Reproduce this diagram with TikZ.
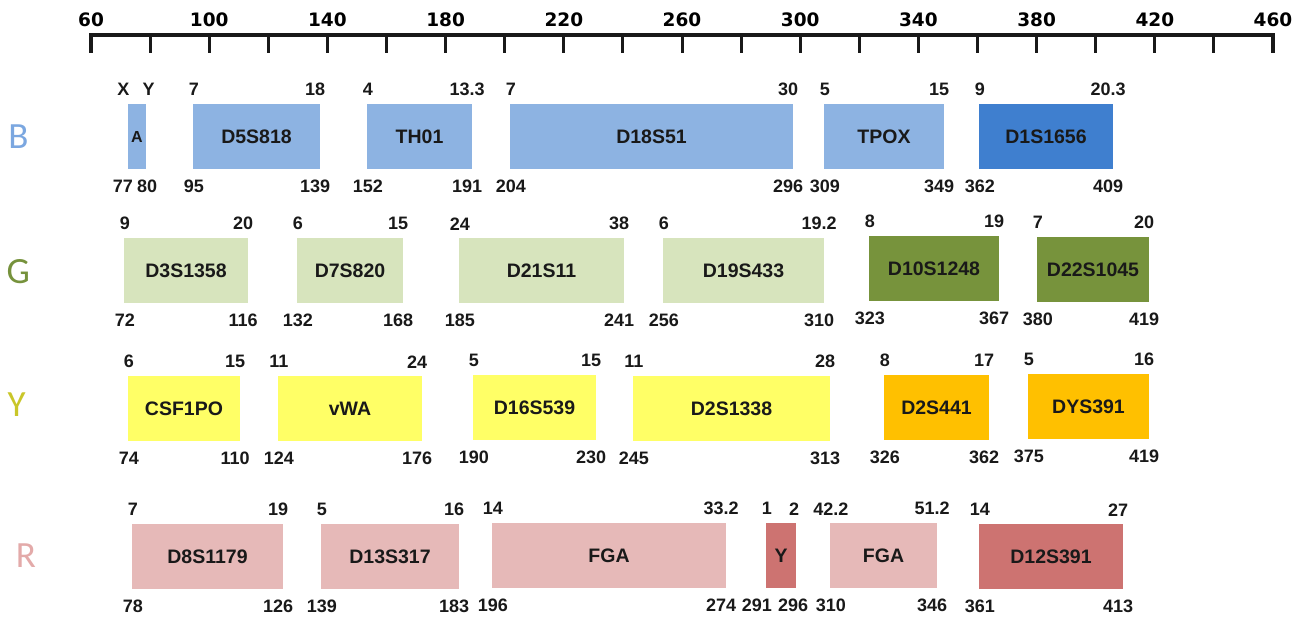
\documentclass[tikz,border=0pt]{standalone}
\usepackage{fontspec}
\setmainfont{Liberation Sans}
\newfontfamily\axfamily{DejaVu Sans}
\newfontfamily\rwfamily{Carlito}
\usetikzlibrary{calc}
\definecolor{Blight}{HTML}{8DB3E2}
\definecolor{Bdark}{HTML}{3F7FCF}
\definecolor{Glight}{HTML}{D7E4BD}
\definecolor{Gdark}{HTML}{77933C}
\definecolor{Ylight}{HTML}{FFFF66}
\definecolor{Ydark}{HTML}{FFC000}
\definecolor{Rlight}{HTML}{E6B9B8}
\definecolor{Rdark}{HTML}{CD7371}
\definecolor{Bletter}{HTML}{7BA7E0}
\definecolor{Gletter}{HTML}{76923C}
\definecolor{Yletter}{HTML}{C9C629}
\definecolor{Rletter}{HTML}{E3AAA9}
\newcommand\lcfont{\fontsize{19.5}{19.5}\selectfont\bfseries}
\newcommand\nmfont{\fontsize{18}{18}\selectfont\bfseries}
\newcommand\axfnt{\axfamily\fontsize{18.5}{18.5}\selectfont\bfseries}
\newcommand\rwfnt{\rwfamily\fontsize{37}{37}\selectfont}
\tikzset{
  locus/.style={rectangle, inner sep=0pt, minimum height=65pt, font=\lcfont, text=black!90},
  num/.style={inner sep=0pt, font=\nmfont, text=black!90},
  axlab/.style={inner sep=0pt, font=\axfnt, text=black},
  rowlab/.style={inner sep=0pt, font=\rwfnt},
  axline/.style={line width=3.5pt, line join=miter, draw=black!90},
  tickline/.style={line width=3pt, draw=black!90},
}
\newcommand\locus[6]{%
  \pgfmathsetmacro\lcx{(#2+#3)/2}%
  \pgfmathsetmacro\lcw{#3-#2}%
  \pgfmathsetmacro\lcy{#4+32.5}%
  \node[locus, fill=#5, minimum width=\lcw pt] (#1) at (\lcx,\lcy) {#6};}
\newcommand\lcends[5]{%
  \node[num] (#1tl) at ($(#1.north west)+(1,-14)$) {#2};
  \node[num] (#1tr) at ($(#1.north east)+(-5,-14)$) {#3};
  \node[num] (#1bl) at ($(#1.south west)+(1,17)$) {#4};
  \node[num] (#1br) at ($(#1.south east)+(-5,17)$) {#5};}
\begin{document}
\begin{tikzpicture}[x=1pt,y=-1pt]
\useasboundingbox (0,0) rectangle (1313,617);
% axis
\coordinate (axL) at (91,53);
\coordinate (axLt) at (91,35);
\coordinate (axRt) at (1273,35);
\coordinate (axR) at (1273,53);
\draw[axline] (axL) -- (axLt) -- (axRt) -- (axR);
\foreach \i in {1,...,19}{
  \coordinate (tk\i) at ({91+\i*59.1},35);
  \draw[tickline] (tk\i) -- ++(0,18);
}
\foreach \i/\v in {0/60,2/100,4/140,6/180,8/220,10/260,12/300,14/340,16/380,18/420,20/460}{
  \node[axlab] (ax\v) at ({91+\i*59.1},19.5) {\v};
}
% row letters
\node[rowlab, text=Bletter] (rowB) at (18.5,137) {B};
\node[rowlab, text=Gletter] (rowG) at (18.3,271.5) {G};
\node[rowlab, text=Yletter] (rowY) at (16.7,405) {Y};
\node[rowlab, text=Rletter] (rowR) at (26,556) {R};
% B row
\locus{bA}{128}{146}{104}{Blight}{\fontsize{16}{16}\selectfont A}
\node[num] (bAtl) at ($(bA.north west)+(-4.5,-14)$) {X};
\node[num] (bAtr) at ($(bA.north east)+(2.5,-14)$) {Y};
\node[num] (bAbl) at ($(bA.south west)+(-5,17)$) {77};
\node[num] (bAbr) at ($(bA.south east)+(1,17)$) {80};
\locus{b1}{193}{320}{104}{Blight}{D5S818}   \lcends{b1}{7}{18}{95}{139}
\locus{b2}{367}{472}{104}{Blight}{TH01}     \lcends{b2}{4}{13.3}{152}{191}
\locus{b3}{510}{793}{104}{Blight}{D18S51}   \lcends{b3}{7}{30}{204}{296}
\locus{b4}{824}{944}{104}{Blight}{TPOX}     \lcends{b4}{5}{15}{309}{349}
\locus{b5}{979}{1113}{104}{Bdark}{D1S1656}  \lcends{b5}{9}{20.3}{362}{409}
% G row
\locus{g1}{124}{248}{238}{Glight}{D3S1358}  \lcends{g1}{9}{20}{72}{116}
\locus{g2}{297}{403}{238}{Glight}{D7S820}   \lcends{g2}{6}{15}{132}{168}
\locus{g3}{459}{624}{238}{Glight}{D21S11}   \lcends{g3}{24}{38}{185}{241}
\locus{g4}{663}{824}{238}{Glight}{D19S433}  \lcends{g4}{6}{19.2}{256}{310}
\locus{g5}{869}{999}{236}{Gdark}{D10S1248}  \lcends{g5}{8}{19}{323}{367}
\locus{g6}{1037}{1149}{237}{Gdark}{D22S1045} \lcends{g6}{7}{20}{380}{419}
% Y row
\locus{y1}{128}{240}{376}{Ylight}{CSF1PO}   \lcends{y1}{6}{15}{74}{110}
\locus{y2}{278}{422}{376}{Ylight}{vWA}      \lcends{y2}{11}{24}{124}{176}
\locus{y3}{473}{596}{375}{Ylight}{D16S539}  \lcends{y3}{5}{15}{190}{230}
\locus{y4}{633}{830}{376}{Ylight}{D2S1338}  \lcends{y4}{11}{28}{245}{313}
\locus{y5}{884}{989}{375}{Ydark}{D2S441}    \lcends{y5}{8}{17}{326}{362}
\locus{y6}{1028}{1149}{374}{Ydark}{DYS391}  \lcends{y6}{5}{16}{375}{419}
% R row
\locus{r1}{132}{283}{524}{Rlight}{D8S1179}  \lcends{r1}{7}{19}{78}{126}
\locus{r2}{321}{459}{524}{Rlight}{D13S317}  \lcends{r2}{5}{16}{139}{183}
\locus{r3}{492}{726}{523}{Rlight}{FGA}      \lcends{r3}{14}{33.2}{196}{274}
\locus{r4}{766}{796}{523}{Rdark}{Y}
\node[num] (r4tl) at ($(r4.north west)+(1,-14)$) {1};
\node[num] (r4tr) at ($(r4.north east)+(-2,-14)$) {2};
\node[num] (r4bl) at ($(r4.south west)+(-9,17)$) {291};
\node[num] (r4br) at ($(r4.south east)+(-3,17)$) {296};
\locus{r5}{830}{937}{523}{Rlight}{FGA}      \lcends{r5}{42.2}{51.2}{310}{346}
\locus{r6}{979}{1123}{524}{Rdark}{D12S391}  \lcends{r6}{14}{27}{361}{413}
\end{tikzpicture}
\end{document}
